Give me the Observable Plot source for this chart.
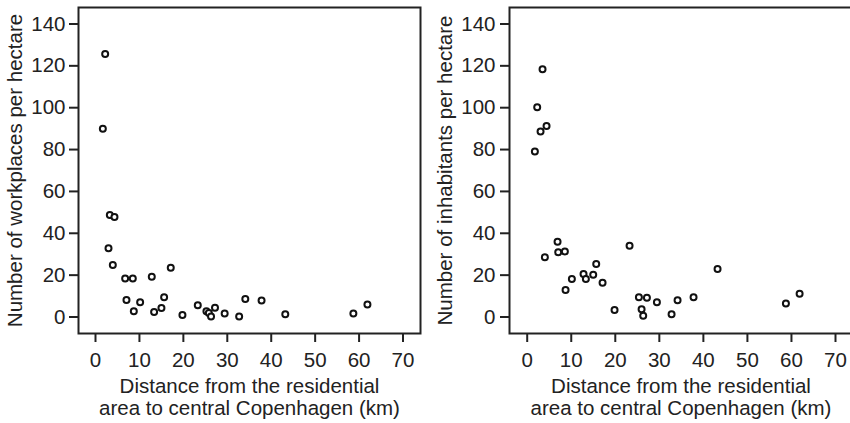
<!DOCTYPE html>
<html><head><meta charset="utf-8">
<script src="https://cdn.jsdelivr.net/npm/d3@7"></script>
<script src="https://cdn.jsdelivr.net/npm/@observablehq/plot@0.6"></script>
<style>
html,body{margin:0;padding:0;background:#fff;overflow:hidden}
#wrap{display:flex;width:850px;height:423px;overflow:hidden;background:#fff}
#wrap svg{flex:none;display:block}
</style></head><body><div id="wrap"></div>
<script>
// Left panel: workplaces per hectare vs distance (km)
const distW = [1.67, 2.2, 2.96, 3.26, 3.94, 4.32, 6.75, 7.05, 8.49, 8.72, 10.16, 12.81, 13.34, 15.01, 15.62, 17.13, 19.79, 23.28, 25.25, 25.8, 26.3, 27.2, 29.4, 32.7, 34.1, 37.8, 43.2, 58.7, 61.9];
const workplaces = [90, 125.7, 32.9, 48.7, 24.9, 47.8, 18.4, 8.1, 18.4, 2.7, 7.1, 19.2, 2.4, 4.3, 9.4, 23.5, 1.0, 5.6, 2.7, 1.9, 0.2, 4.4, 1.7, 0.3, 8.6, 7.9, 1.3, 1.7, 6.0];
// Right panel: inhabitants per hectare vs distance (km)
const distI = [1.74, 2.27, 3.03, 3.48, 4.01, 4.39, 6.89, 7.04, 8.55, 8.71, 10.14, 12.79, 13.32, 14.99, 15.67, 17.11, 19.83, 23.24, 25.36, 25.97, 26.34, 27.18, 29.45, 32.78, 34.14, 37.77, 43.22, 58.74, 61.85];
const inhabitants = [79.1, 100.2, 88.6, 118.4, 28.5, 91.2, 36.0, 30.9, 31.3, 12.9, 18.1, 20.5, 18.1, 20.2, 25.3, 16.4, 3.3, 34.0, 9.4, 3.7, 0.6, 9.2, 7.0, 1.3, 8.0, 9.4, 22.9, 6.4, 11.1];
const xTicks = [0, 10, 20, 30, 40, 50, 60, 70];
const yTicks = [0, 20, 40, 60, 80, 100, 120, 140];
const xLabel = "Distance from the residential\narea to central Copenhagen (km)";
const yLabelW = "Number of workplaces per hectare";
const yLabelI = "Number of inhabitants per hectare";

const FONT = "'Liberation Sans', Arial, Helvetica, sans-serif";
const INK = "#222";
const FS = 20.5;

function panel(xs, ys, yLabel, o) {
  const rows = xs.map((x, i) => ({x, y: ys[i]}));
  return Plot.plot({
    width: o.width, height: 423,
    marginLeft: o.ml, marginRight: o.mr, marginTop: 7, marginBottom: 90,
    style: {fontFamily: FONT, fontSize: FS + "px", color: INK, background: "#fff", overflow: "visible"},
    x: {domain: o.xd},
    y: {domain: [-7.88, 147.87]},
    marks: [
      Plot.axisX(xTicks, {anchor: "bottom", tickSize: 9, tickPadding: 10, strokeWidth: 2, stroke: INK, fill: INK, fontSize: FS, label: null}),
      Plot.axisY(yTicks, {anchor: "left", tickSize: 9, tickPadding: o.yp, strokeWidth: 2, stroke: INK, fill: INK, fontSize: FS, label: null}),
      Plot.frame({stroke: INK, strokeWidth: 2}),
      Plot.dot(rows, {x: "x", y: "y", r: 3, stroke: "#111", strokeWidth: 2, fill: "white"}),
      Plot.text([xLabel], {text: d => d, frameAnchor: "bottom", textAnchor: "middle", lineAnchor: "top", dy: 44.5, lineHeight: 1.05, fontSize: FS, fill: INK}),
      Plot.text([yLabel], {text: d => d, frameAnchor: "left", textAnchor: "middle", lineAnchor: "middle", rotate: -90, dx: o.ydx, fontSize: FS, fill: INK})
    ]
  });
}

const wrap = document.getElementById("wrap");
wrap.appendChild(panel(distW, workplaces, yLabelW, {width: 430, ml: 78, mr: 10, xd: [-3.87, 73.98], yp: 4, ydx: -63}));
wrap.appendChild(panel(distI, inhabitants, yLabelI, {width: 422, ml: 79, mr: 0, xd: [-4.02, 73.86], yp: 5, ydx: -64.5}));
</script>
</body></html>
